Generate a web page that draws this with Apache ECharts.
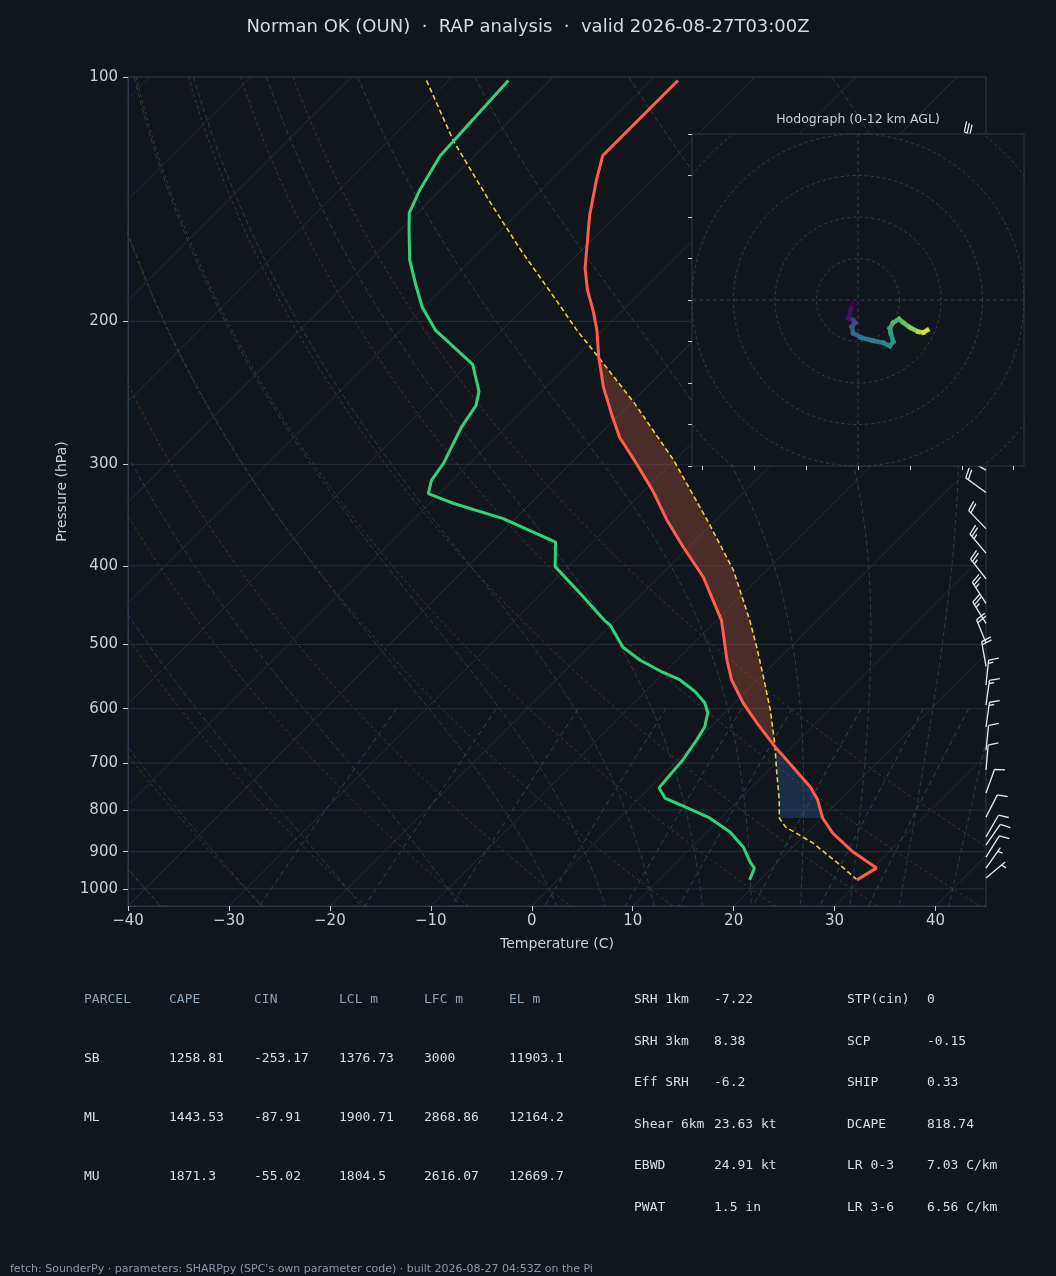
<!DOCTYPE html>
<html><head><meta charset="utf-8">
<script src="https://cdn.jsdelivr.net/npm/echarts@6/dist/echarts.min.js"></script>
<style>html,body{margin:0;padding:0;background:#11161d}#c{width:1056px;height:1276px}</style>
</head><body><div id="c"></div>
<script>
// ---------------- DATA ----------------
const titleText = 'Norman OK (OUN)  \u00b7  RAP analysis  \u00b7  valid 2026-08-27T03:00Z';
const pressureTicks = [100, 200, 300, 400, 500, 600, 700, 800, 900, 1000];
const tempTicks = [-40, -30, -20, -10, 0, 10, 20, 30, 40];

// environmental temperature (hPa, degC)
const tempP = [101, 125, 134, 148, 172, 183, 194, 205, 221, 241, 262, 278, 296, 323, 351, 379, 413, 467, 523, 553, 590, 625, 665, 708, 749, 777, 818, 854, 901, 943, 975];
const tempT = [-67.3, -67.3, -65.5, -62.7, -57.9, -55.5, -52.9, -50.6, -47.8, -44.3, -40.5, -37.7, -34.1, -29.2, -24.9, -20.6, -15.6, -9.5, -5.0, -2.6, 0.8, 4.2, 8.0, 12.1, 15.8, 17.8, 20.1, 22.6, 26.5, 30.4, 29.6];
// dewpoint
const dewP = [101, 125, 138, 147, 154, 168, 180, 192, 205, 226, 244, 254, 270, 299, 314, 326, 335, 350, 374, 401, 428, 467, 473, 504, 523, 541, 553, 572, 590, 607, 632, 656, 694, 724, 751, 773, 795, 818, 851, 888, 929, 943, 975];
const dewT = [-84.1, -83.4, -82.0, -80.8, -79.2, -76.1, -73.1, -70.2, -66.6, -59.5, -56.2, -55.1, -54.4, -52.6, -52.1, -51.1, -47.7, -41.2, -33.7, -31.3, -26.9, -21.1, -20.1, -16.6, -13.6, -10.2, -7.7, -5.0, -3.0, -1.7, -0.6, -0.1, 0.5, 0.7, 0.9, 2.5, 5.7, 8.9, 12.3, 15.1, 17.4, 18.3, 19.0];
// surface parcel trace
const parcelP = [101, 120, 142, 163, 188, 205, 223, 252, 296, 355, 405, 467, 508, 558, 602, 661, 720, 777, 818, 839, 878, 935, 973];
const parcelT = [-92.2, -83.5, -74.1, -66.2, -57.7, -52.6, -47.3, -39.7, -30.2, -20.3, -13.3, -6.7, -3.0, 1.0, 4.2, 7.9, 11.1, 14.0, 15.8, 17.3, 21.6, 26.5, 29.5];
// shaded layers (hPa)
const capeLayer = [222, 665];   // EL .. LFC
const cinLayer = [665, 818];    // LFC .. LCL

// wind barbs
const barbP   = [121, 135, 150, 170, 190, 210, 230, 255, 280, 305, 325, 360, 386, 415, 445, 471, 498, 532, 561, 594, 632, 675, 714, 762, 816, 863, 883, 914, 943, 970];
const barbDir = [300, 300, 295, 295, 290, 290, 295, 295, 300, 300, 306, 316, 320, 322, 327, 328, 338, 350, 6, 8, 8, 6, 5, 20, 27, 30, 35, 32, 35, 50];
const barbSpd = [30, 35, 35, 35, 30, 30, 30, 25, 25, 20, 20, 20, 25, 25, 25, 25, 20, 20, 15, 15, 15, 10, 10, 10, 10, 10, 10, 10, 5, 5];

// hodograph (kt) and height (km AGL)
const hodoU = [-2.7, -3.4, -4.7, -2.3, -1.4, -3.0, -2.3, 1.8, 7.4, 12.2, 15.4, 17.0, 15.8, 15.4, 17.0, 19.8, 21.8, 25.1, 29.1, 31.5, 33.4];
const hodoV = [-1.9, -4.5, -8.8, -9.6, -10.9, -12.9, -16.0, -18.2, -19.6, -20.6, -22.2, -20.1, -16.0, -13.6, -10.9, -9.2, -10.9, -13.3, -15.3, -15.6, -14.5];
const hodoZ = [0, 0.5, 1.0, 2.2, 2.8, 3.3, 4.2, 4.8, 5.3, 5.7, 6.1, 6.4, 6.8, 7.3, 7.9, 8.5, 9.0, 9.8, 10.6, 11.3, 12.0];
const hodoRings = [20, 40, 60, 80, 100];
const hodoXTicks = [-75, -50, -25, 0, 25, 50, 75];

// parameter tables
const parcelHeader = ['PARCEL', 'CAPE', 'CIN', 'LCL m', 'LFC m', 'EL m'];
const parcelRows = [
  ['SB', '1258.81', '-253.17', '1376.73', '3000', '11903.1'],
  ['ML', '1443.53', '-87.91', '1900.71', '2868.86', '12164.2'],
  ['MU', '1871.3', '-55.02', '1804.5', '2616.07', '12669.7']
];
const indexCol1 = [['SRH 1km', '-7.22'], ['SRH 3km', '8.38'], ['Eff SRH', '-6.2'], ['Shear 6km', '23.63 kt'], ['EBWD', '24.91 kt'], ['PWAT', '1.5 in']];
const indexCol2 = [['STP(cin)', '0'], ['SCP', '-0.15'], ['SHIP', '0.33'], ['DCAPE', '818.74'], ['LR 0-3', '7.03 C/km'], ['LR 3-6', '6.56 C/km']];
const footerText = "fetch: SounderPy \u00b7 parameters: SHARPpy (SPC's own parameter code) \u00b7 built 2026-08-27 04:53Z on the Pi";

// ---------------- helpers ----------------
const BG = '#11161d';
const FRAME = '#2e3a48';
const TXT = '#c9d1d9';
const P_BOT = 1050, P_TOP = 100;
const LOGB = Math.log10(P_BOT);
const SKEW = 80.42; // degC per decade of pressure (45 deg skew)
const sk = (T, p) => [T + SKEW * (LOGB - Math.log10(p)), Math.log10(p)];

const Rd = 287.04749, Cpd = 1004.666, Lv = 2.50084e6, EPS = 0.6219569, KAP = Rd / Cpd;
const satVap = Tc => 6.112 * Math.exp(17.67 * Tc / (Tc + 243.5));
const satMix = (p, Tc) => { const e = satVap(Tc); return EPS * e / (p - e); };
const dTdp = (p, TK) => { const rs = satMix(p, TK - 273.15); return (Rd * TK + Lv * rs) / (Cpd + Lv * Lv * rs * EPS / (Rd * TK * TK)) / p; };
function moistLine(T0) {
  const out = [];
  for (const h of [-5, 5]) {
    let T = T0 + 273.15, p = 1000;
    const seg = [[T, p]];
    while ((h < 0 && p > P_TOP) || (h > 0 && p < P_BOT)) {
      const k1 = dTdp(p, T), k2 = dTdp(p + h / 2, T + h / 2 * k1), k3 = dTdp(p + h / 2, T + h / 2 * k2), k4 = dTdp(p + h, T + h * k3);
      T += h * (k1 + 2 * k2 + 2 * k3 + k4) / 6; p += h;
      seg.push([T, p]);
    }
    if (h < 0) out.push(...seg.reverse()); else out.push(...seg.slice(1));
  }
  return out.map(([T, p]) => sk(T - 273.15, p));
}
function interpT(Ps, Ts, p) {
  const lp = Math.log10(p);
  for (let i = 0; i < Ps.length - 1; i++) {
    const a = Math.log10(Ps[i]), b = Math.log10(Ps[i + 1]);
    if (lp >= a && lp <= b) { const f = (lp - a) / (b - a); return Ts[i] + f * (Ts[i + 1] - Ts[i]); }
  }
  return lp < Math.log10(Ps[0]) ? Ts[0] : Ts[Ts.length - 1];
}
function layer(Ps, Ts, pTop, pBot) {
  const pts = [[interpT(Ps, Ts, pTop), pTop]];
  Ps.forEach((p, i) => { if (p > pTop && p < pBot) pts.push([Ts[i], p]); });
  pts.push([interpT(Ps, Ts, pBot), pBot]);
  return pts;
}
const VIR = [[0, [68, 1, 84]], [0.25, [59, 82, 139]], [0.5, [33, 145, 140]], [0.75, [94, 201, 98]], [1, [253, 231, 37]]];
function viridis(t) {
  t = Math.max(0, Math.min(1, t));
  for (let i = 0; i < VIR.length - 1; i++) {
    if (t <= VIR[i + 1][0]) {
      const f = (t - VIR[i][0]) / (VIR[i + 1][0] - VIR[i][0]);
      const c = VIR[i][1].map((v, k) => Math.round(v + f * (VIR[i + 1][1][k] - v)));
      return 'rgb(' + c.join(',') + ')';
    }
  }
  return 'rgb(253,231,37)';
}

// ---------------- series ----------------
const series = [];
function addLine(pts, style, z) {
  series.push({ type: 'line', xAxisIndex: 0, yAxisIndex: 0, data: pts, showSymbol: false, symbol: 'none', silent: true, clip: true, z: z, lineStyle: style });
}
// isotherms
for (let T = -130; T <= 40; T += 10) addLine([sk(T, P_BOT), sk(T, P_TOP)], { color: '#262d36', width: 1 }, 1);
// isobars
pressureTicks.forEach(p => addLine([[-40, Math.log10(p)], [45, Math.log10(p)]], { color: '#262e38', width: 1 }, 1));
// dry adiabats
for (let T0 = -50; T0 <= 50; T0 += 10) {
  const pts = [];
  for (let p = P_TOP; p <= P_BOT; p += 5) pts.push(sk((T0 + 273.15) * Math.pow(p / 1000, KAP) - 273.15, p));
  addLine(pts, { color: '#4a3829', width: 1, type: [3, 3] }, 1);
}
// moist adiabats
[-50, -40, -30, -20, -10, 0, 5, 10, 15, 20, 25, 30, 35, 40, 45, 50].forEach(T0 => addLine(moistLine(T0), { color: '#283f4a', width: 1, type: [5, 3] }, 1));
// mixing ratio lines
[0.4, 1, 2, 4, 7, 10, 16, 24, 32].forEach(w => {
  const pts = [];
  for (let p = 600; p <= P_BOT; p += 10) {
    const e = p * (w / 1000) / (EPS + w / 1000), l = Math.log(e / 6.112);
    pts.push(sk(243.5 * l / (17.67 - l), p));
  }
  addLine(pts, { color: '#2c4658', width: 1, type: [5, 4] }, 1);
});

// CAPE / CIN shading
function fillSeries(pTop, pBot, color) {
  return {
    type: 'custom', xAxisIndex: 0, yAxisIndex: 0, silent: true, z: 2, data: [[0, 2.5]],
    renderItem: (params, api) => {
      const a = layer(parcelP, parcelT, pTop, pBot), b = layer(tempP, tempT, pTop, pBot).reverse();
      const pts = a.concat(b).map(([T, p]) => api.coord(sk(T, p)));
      return { type: 'polygon', shape: { points: pts }, style: { fill: color } };
    }
  };
}
series.push(fillSeries(capeLayer[0], capeLayer[1], 'rgba(210,100,60,0.30)'));
series.push(fillSeries(cinLayer[0], cinLayer[1], 'rgba(60,120,200,0.25)'));

// profiles
series.push({ type: 'line', xAxisIndex: 0, yAxisIndex: 0, data: parcelP.map((p, i) => sk(parcelT[i], p)), showSymbol: false, symbol: 'none', silent: true, z: 4, lineStyle: { color: '#f2c94c', width: 1.6, type: [5, 3] } });
series.push({ type: 'line', xAxisIndex: 0, yAxisIndex: 0, data: dewP.map((p, i) => sk(dewT[i], p)), showSymbol: false, symbol: 'none', silent: true, z: 4, lineStyle: { color: '#33d17a', width: 3 } });
series.push({ type: 'line', xAxisIndex: 0, yAxisIndex: 0, data: tempP.map((p, i) => sk(tempT[i], p)), showSymbol: false, symbol: 'none', silent: true, z: 4, lineStyle: { color: '#ff5c4d', width: 3 } });

// wind barbs at the right edge
series.push({
  type: 'custom', xAxisIndex: 0, yAxisIndex: 0, silent: true, z: 4, clip: false,
  data: barbP.map((p, i) => [45, Math.log10(p), barbDir[i], barbSpd[i]]),
  encode: { x: 0, y: 1 },
  renderItem: (params, api) => {
    const a = api.coord([api.value(0), api.value(1)]);
    const d = api.value(2) * Math.PI / 180, spd = api.value(3);
    const L = 25, vx = Math.sin(d), vy = -Math.cos(d), nx = -vy, ny = vx;
    const tip = [a[0] + L * vx, a[1] + L * vy];
    const st = { stroke: '#e6eaee', lineWidth: 1.3, fill: null };
    const ch = [{ type: 'line', shape: { x1: a[0], y1: a[1], x2: tip[0], y2: tip[1] }, style: st }];
    let r = Math.round(spd / 5) * 5;
    const flags = Math.floor(r / 50); r -= flags * 50;
    const full = Math.floor(r / 10); r -= full * 10;
    const half = r >= 5;
    const sp = 0.125 * L, H = 0.4 * L, W = 0.25 * L;
    const at = o => [tip[0] - o * vx, tip[1] - o * vy];
    let off = 0;
    for (let k = 0; k < flags; k++) {
      const b = at(off), c = at(off + W);
      ch.push({ type: 'polygon', shape: { points: [b, [b[0] + nx * H - vx * W / 2, b[1] + ny * H - vy * W / 2], c] }, style: { fill: '#e6eaee' } });
      off += W + sp;
    }
    for (let k = 0; k < full; k++) {
      const b = at(off);
      ch.push({ type: 'line', shape: { x1: b[0], y1: b[1], x2: b[0] + nx * H + vx * W / 2, y2: b[1] + ny * H + vy * W / 2 }, style: st });
      off += sp;
    }
    if (half) {
      if (off === 0) off = 1.5 * sp;
      const b = at(off);
      ch.push({ type: 'line', shape: { x1: b[0], y1: b[1], x2: b[0] + nx * H / 2 + vx * W / 4, y2: b[1] + ny * H / 2 + vy * W / 4 }, style: st });
    }
    return { type: 'group', children: ch };
  }
});

// hodograph rings and cross lines
hodoRings.forEach(r => {
  const pts = [];
  for (let k = 0; k <= 180; k++) { const t = k / 180 * 2 * Math.PI; pts.push([r * Math.cos(t), r * Math.sin(t)]); }
  series.push({ type: 'line', xAxisIndex: 1, yAxisIndex: 1, data: pts, showSymbol: false, symbol: 'none', silent: true, clip: true, z: 10, lineStyle: { color: '#34404e', width: 1, type: [3, 3] } });
});
series.push({ type: 'line', xAxisIndex: 1, yAxisIndex: 1, data: [[-80, 0], [80, 0]], showSymbol: false, symbol: 'none', silent: true, z: 10, lineStyle: { color: '#34404e', width: 1, type: [4, 3] } });
series.push({ type: 'line', xAxisIndex: 1, yAxisIndex: 1, data: [[0, -80], [0, 80]], showSymbol: false, symbol: 'none', silent: true, z: 10, lineStyle: { color: '#34404e', width: 1, type: [4, 3] } });
// hodograph trace coloured by height
series.push({
  type: 'custom', xAxisIndex: 1, yAxisIndex: 1, silent: true, z: 11,
  data: hodoU.slice(0, -1).map((u, i) => [u, hodoV[i], hodoU[i + 1], hodoV[i + 1], hodoZ[i]]),
  encode: { x: [0, 2], y: [1, 3] },
  renderItem: (params, api) => {
    const p1 = api.coord([api.value(0), api.value(1)]), p2 = api.coord([api.value(2), api.value(3)]);
    return { type: 'line', shape: { x1: p1[0], y1: p1[1], x2: p2[0], y2: p2[1] }, style: { stroke: viridis(api.value(4) / 12), lineWidth: 4.5, lineCap: 'square' } };
  }
});

// ---------------- graphic (cover, texts) ----------------
const graphic = [];
graphic.push({ type: 'rect', z: 6, silent: true, shape: { x: 692, y: 134, width: 332, height: 332 }, style: { fill: BG } });
graphic.push({ type: 'text', z: 12, x: 858, y: 120, style: { text: 'Hodograph (0-12 km AGL)', fill: TXT, font: '12.5px "DejaVu Sans"', textAlign: 'center', textVerticalAlign: 'middle' } });
const mono = '13px "DejaVu Sans Mono"';
const colX = [84, 169, 254, 339, 424, 509];
parcelHeader.forEach((h, i) => graphic.push({ type: 'text', x: colX[i], y: 1000, style: { text: h, fill: '#8fa1b4', font: mono, textVerticalAlign: 'middle' } }));
parcelRows.forEach((row, r) => row.forEach((v, i) => graphic.push({ type: 'text', x: colX[i], y: 1059 + r * 59, style: { text: v, fill: '#d9dee4', font: mono, textVerticalAlign: 'middle' } })));
const idxY = [1000, 1042, 1083, 1125, 1166, 1208];
indexCol1.forEach(([k, v], i) => {
  graphic.push({ type: 'text', x: 634, y: idxY[i], style: { text: k, fill: '#d9dee4', font: mono, textVerticalAlign: 'middle' } });
  graphic.push({ type: 'text', x: 714, y: idxY[i], style: { text: v, fill: '#d9dee4', font: mono, textVerticalAlign: 'middle' } });
});
indexCol2.forEach(([k, v], i) => {
  graphic.push({ type: 'text', x: 847, y: idxY[i], style: { text: k, fill: '#d9dee4', font: mono, textVerticalAlign: 'middle' } });
  graphic.push({ type: 'text', x: 927, y: idxY[i], style: { text: v, fill: '#d9dee4', font: mono, textVerticalAlign: 'middle' } });
});
graphic.push({ type: 'text', x: 10, y: 1269, style: { text: footerText, fill: '#8b98a6', font: '11px "DejaVu Sans"', textVerticalAlign: 'middle' } });

// ---------------- chart ----------------
const chart = echarts.init(document.getElementById('c'), null, { renderer: 'canvas', width: 1056, height: 1276 });
chart.setOption({
  backgroundColor: BG,
  animation: false,
  title: { text: titleText, left: 'center', top: 18, padding: 0, textStyle: { color: '#d4dae0', fontSize: 18, fontWeight: 'normal', fontFamily: 'DejaVu Sans' } },
  grid: [
    { left: 128, top: 77, width: 858, height: 829, show: true, borderColor: FRAME, borderWidth: 1, backgroundColor: 'transparent' },
    { left: 692, top: 134, width: 332, height: 332, show: true, borderColor: FRAME, borderWidth: 1, backgroundColor: 'transparent', z: 10 }
  ],
  xAxis: [
    { type: 'value', gridIndex: 0, min: -40, max: 45, interval: 10,
      name: 'Temperature (C)', nameLocation: 'middle', nameGap: 31, nameTextStyle: { color: TXT, fontSize: 14, fontFamily: 'DejaVu Sans' },
      axisLine: { show: true, onZero: false, lineStyle: { color: FRAME } },
      axisTick: { show: true, length: 5, customValues: tempTicks, lineStyle: { color: TXT } },
      axisLabel: { customValues: tempTicks, color: TXT, fontSize: 15, fontFamily: 'DejaVu Sans', margin: 8, formatter: v => (v < 0 ? '\u2212' + (-v) : String(v)) },
      splitLine: { show: false } },
    { type: 'value', gridIndex: 1, min: -80, max: 80, z: 10,
      axisLine: { show: false, onZero: false },
      axisTick: { show: true, length: 4, customValues: hodoXTicks, lineStyle: { color: TXT } },
      axisLabel: { show: false, customValues: hodoXTicks },
      splitLine: { show: false } }
  ],
  yAxis: [
    { type: 'value', gridIndex: 0, inverse: true, min: 2, max: LOGB,
      name: 'Pressure (hPa)', nameLocation: 'middle', nameGap: 57, nameRotate: 90, nameTextStyle: { color: TXT, fontSize: 14, fontFamily: 'DejaVu Sans' },
      axisLine: { show: true, onZero: false, lineStyle: { color: FRAME } },
      axisTick: { show: true, length: 5, customValues: pressureTicks.map(Math.log10), lineStyle: { color: TXT } },
      axisLabel: { customValues: pressureTicks.map(Math.log10), color: TXT, fontSize: 15, fontFamily: 'DejaVu Sans', margin: 10, formatter: v => String(Math.round(Math.pow(10, v))) },
      splitLine: { show: false } },
    { type: 'value', gridIndex: 1, min: -80, max: 80, interval: 20, z: 10,
      axisLine: { show: false, onZero: false },
      axisTick: { show: true, length: 4, lineStyle: { color: TXT } },
      axisLabel: { show: false },
      splitLine: { show: false } }
  ],
  graphic: graphic,
  series: series
});
</script>
</body></html>
